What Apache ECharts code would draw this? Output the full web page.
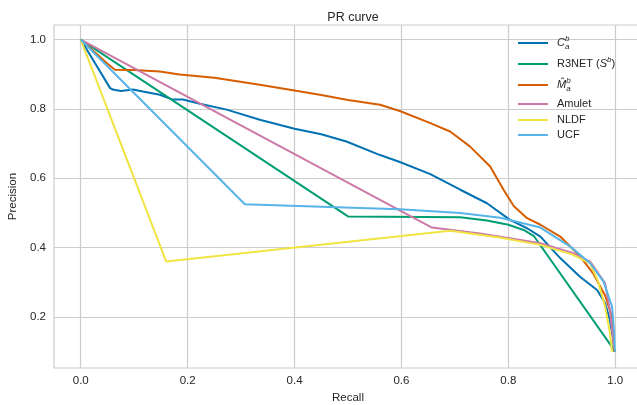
<!DOCTYPE html>
<html>
<head>
<meta charset="utf-8">
<script src="https://cdn.jsdelivr.net/npm/echarts@6/dist/echarts.min.js"></script>
<style>html,body{margin:0;padding:0;background:#fff}#c{width:637px;height:405px}</style>
</head>
<body>
<div id="c"></div>
<script>
// ---- data ----
const seriesNames = ['Ca', 'R3NET', 'Ma', 'Amulet', 'NLDF', 'UCF'];
const xTicks = [0, 0.2, 0.4, 0.6, 0.8, 1.0];
const yTicks = [0.2, 0.4, 0.6, 0.8, 1.0];

const caRecall =    [0, 0.055, 0.06, 0.075, 0.098, 0.116, 0.148, 0.172, 0.191, 0.223, 0.273, 0.335, 0.4, 0.45, 0.497, 0.56, 0.597, 0.654, 0.71, 0.76, 0.803, 0.835, 0.86, 0.897, 0.934, 0.966, 0.981, 0.99, 0.996, 0.998];
const caPrecision = [1, 0.86, 0.856, 0.852, 0.856, 0.85, 0.841, 0.827, 0.827, 0.815, 0.798, 0.769, 0.743, 0.727, 0.706, 0.667, 0.647, 0.612, 0.567, 0.528, 0.48, 0.456, 0.432, 0.37, 0.316, 0.278, 0.24, 0.191, 0.134, 0.1];

const r3Recall =    [0, 0.5, 0.71, 0.76, 0.8, 0.83, 0.848, 1.0];
const r3Precision = [1, 0.49, 0.488, 0.478, 0.466, 0.45, 0.433, 0.1];

const maRecall =    [0, 0.048, 0.064, 0.1, 0.148, 0.185, 0.25, 0.335, 0.4, 0.45, 0.5, 0.56, 0.597, 0.654, 0.691, 0.728, 0.766, 0.791, 0.81, 0.835, 0.86, 0.897, 0.934, 0.959, 0.981, 0.992, 0.996, 0.998];
const maPrecision = [1, 0.933, 0.913, 0.912, 0.908, 0.899, 0.89, 0.87, 0.853, 0.84, 0.826, 0.812, 0.794, 0.759, 0.735, 0.692, 0.634, 0.567, 0.52, 0.485, 0.466, 0.432, 0.375, 0.325, 0.262, 0.21, 0.154, 0.1];

const amRecall =    [0, 0.657, 0.75, 0.86, 0.92, 0.953, 0.981, 0.99, 0.996, 0.998];
const amPrecision = [1, 0.458, 0.44, 0.413, 0.385, 0.36, 0.297, 0.22, 0.134, 0.11];

const nlRecall =    [0, 0.16, 0.691, 0.78, 0.86, 0.92, 0.953, 0.968, 0.981, 0.99, 0.994];
const nlPrecision = [1, 0.36, 0.449, 0.43, 0.408, 0.38, 0.355, 0.302, 0.23, 0.154, 0.1];

const ucRecall =    [0, 0.307, 0.45, 0.597, 0.71, 0.785, 0.86, 0.916, 0.953, 0.978, 0.994, 0.998, 0.999];
const ucPrecision = [1, 0.525, 0.518, 0.511, 0.5, 0.486, 0.458, 0.403, 0.355, 0.302, 0.23, 0.154, 0.1];

const recalls = [caRecall, r3Recall, maRecall, amRecall, nlRecall, ucRecall];
const precisions = [caPrecision, r3Precision, maPrecision, amPrecision, nlPrecision, ucPrecision];
const colors = ['#0072B2', '#009E73', '#D55E00', '#CC79A7', '#F0E442', '#56B4E9'];
const legendCenters = [43, 64, 85, 104, 120, 135];

const legendLabels = {
  'Ca': '{sp|}{it|C}{supz|b}{sub|a}',
  'R3NET': '{sp|}R3NET ({it|S}{sup|b})',
  'Ma': '{sp|}{it|M\u0302}{supz|b}{sub|a}',
  'Amulet': '{sp|}Amulet',
  'NLDF': '{sp|}NLDF',
  'UCF': '{sp|}UCF'
};

const FONT = '"Liberation Sans", Arial, Helvetica, sans-serif';
const TXT = '#262626';

const series = seriesNames.map((n, i) => ({
  name: n,
  type: 'line',
  showSymbol: false,
  symbol: 'none',
  data: recalls[i].map((r, k) => [r, precisions[i][k]]),
  lineStyle: { color: colors[i], width: 2 },
  itemStyle: { color: colors[i] },
  z: 2 + i,
  animation: false
}));

const richStyle = {
  sp: { width: 4 },
  it: { fontStyle: 'italic', fontSize: 11, fontFamily: FONT, color: TXT, lineHeight: 16 },
  sup: { fontSize: 8, fontFamily: FONT, color: TXT, lineHeight: 9, verticalAlign: 'top', fontStyle: 'italic' },
  supz: { fontSize: 8, fontFamily: FONT, color: TXT, lineHeight: 9, verticalAlign: 'top', width: 0.01, align: 'left', fontStyle: 'italic' },
  sub: { fontSize: 8, fontFamily: FONT, color: TXT, lineHeight: 9, verticalAlign: 'bottom', fontStyle: 'italic' }
};

const legends = seriesNames.map((n, i) => ({
  data: [n],
  left: 518,
  top: legendCenters[i] - 8,
  padding: 0,
  itemWidth: 30,
  itemHeight: 2,
  icon: 'path://M0,0 L30,0 L30,2 L0,2 Z',
  itemStyle: { color: colors[i] },
  formatter: name => legendLabels[name],
  textStyle: { fontSize: 11, fontFamily: FONT, color: TXT, lineHeight: 16, rich: richStyle }
}));

const chart = echarts.init(document.getElementById('c'), null, { renderer: 'canvas' });
chart.setOption({
  animation: false,
  backgroundColor: '#ffffff',
  title: {
    text: 'PR curve',
    left: 348,
    textAlign: 'center',
    top: 6,
    textStyle: { fontSize: 12.5, fontWeight: 'normal', fontFamily: FONT, color: TXT }
  },
  legend: legends,
  grid: {
    left: 54, top: 25, width: 588, height: 343,
    outerBoundsMode: 'none', containLabel: false,
    show: true, borderColor: '#cccccc', borderWidth: 1.2, backgroundColor: '#ffffff'
  },
  xAxis: {
    type: 'value', min: -0.05, max: 1.05,
    name: 'Recall', nameLocation: 'middle', nameGap: 23,
    nameTextStyle: { fontSize: 11.5, fontFamily: FONT, color: TXT },
    axisLine: { show: false },
    axisTick: { show: false, customValues: xTicks },
    axisLabel: { customValues: xTicks, formatter: v => v.toFixed(1), fontSize: 11.5, fontFamily: FONT, color: TXT, margin: 7 },
    splitLine: { show: true, lineStyle: { color: '#cccccc', width: 1.2 } }
  },
  yAxis: {
    type: 'value', min: 0.053, max: 1.042,
    name: 'Precision', nameLocation: 'middle', nameGap: 35,
    nameTextStyle: { fontSize: 11.5, fontFamily: FONT, color: TXT },
    axisLine: { show: false },
    axisTick: { show: false, customValues: yTicks },
    axisLabel: { customValues: yTicks, formatter: v => v.toFixed(1), fontSize: 11.5, fontFamily: FONT, color: TXT, margin: 8 },
    splitLine: { show: true, lineStyle: { color: '#cccccc', width: 1.2 } }
  },
  series: series
});
</script>
</body>
</html>
